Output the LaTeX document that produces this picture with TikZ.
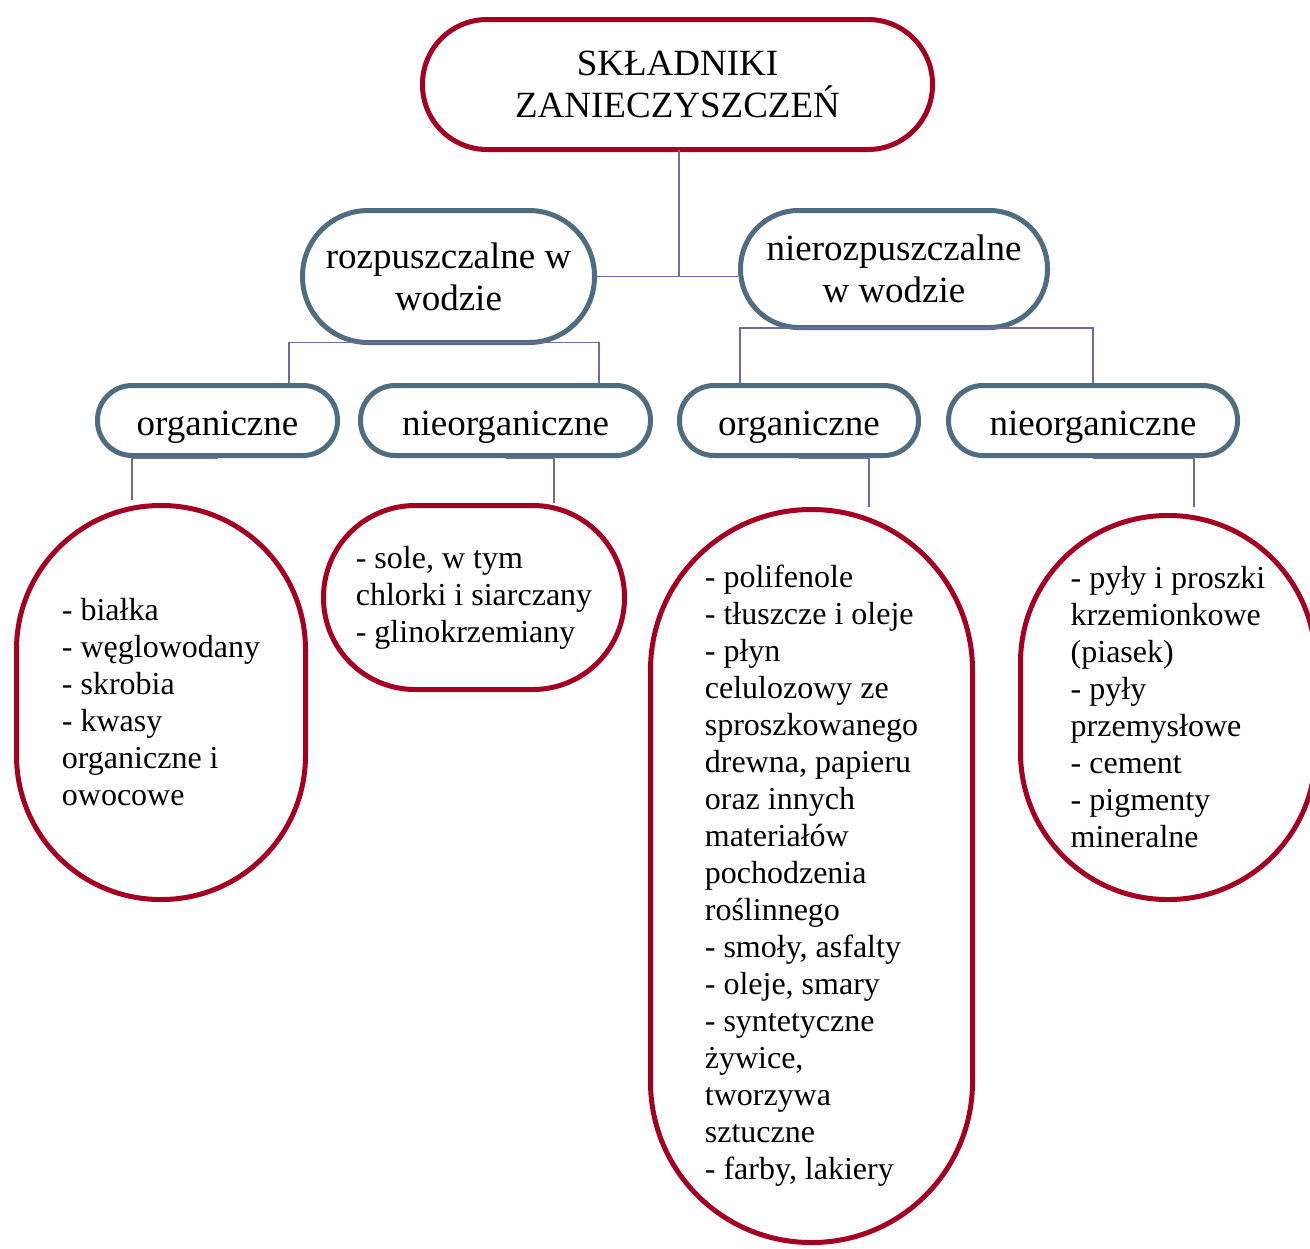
\documentclass[tikz,border=0pt]{standalone}
\usepackage{fontspec}
\setmainfont{Liberation Serif}
\definecolor{myred}{RGB}{165,0,33}
\definecolor{myblue}{RGB}{79,109,128}
\definecolor{myline}{RGB}{112,106,160}
\tikzset{
  redbox/.style={draw=myred, line width=2.5pt, fill=white, inner sep=0pt, align=left, font=\fontsize{16}{18.5}\selectfont},
  bluebox/.style={draw=myblue, line width=2.5pt, fill=white, inner sep=0pt, align=center, font=\fontsize{18.5}{21}\selectfont},
  smallblue/.style={bluebox, minimum height=35pt, rounded corners=17.3pt, text height=18.5pt, text depth=4pt},
  titlebox/.style={draw=myred, line width=2.5pt, fill=white, inner sep=0pt, align=center, font=\fontsize{18.5}{21}\selectfont},
  conn/.style={draw=myline, line width=0.75pt},
}
\begin{document}
\begin{tikzpicture}[x=0.5pt,y=-0.5pt]
\useasboundingbox (0,0) rectangle (1310,1248);
% top
\node[titlebox, minimum width=255pt, minimum height=65pt, rounded corners=32.3pt] (title) at (677.5,84.5) {SKŁADNIKI\\ZANIECZYSZCZEŃ};
% level 2
\node[bluebox, minimum width=146pt, minimum height=66pt, rounded corners=32.8pt] (lm) at (448.5,276.5) {rozpuszczalne w\\wodzie};
\node[bluebox, minimum width=153.5pt, minimum height=58.5pt, rounded corners=29pt] (rm) at (894,269) {nierozpuszczalne\\w wodzie};
% level 3
\node[smallblue, minimum width=120pt] (oL) at (217.5,420.5) {organiczne};
\node[smallblue, minimum width=145pt] (nL) at (505.5,420.5) {nieorganiczne};
\node[smallblue, minimum width=119.5pt] (oR) at (799,420.5) {organiczne};
\node[smallblue, minimum width=144.5pt] (nR) at (1093,420.5) {nieorganiczne};
% level 4
\node[redbox, minimum width=144.5pt, minimum height=197pt, rounded corners=72pt] (L1) at (161,702.5)
  {- białka\\- węglowodany\\- skrobia\\- kwasy\\organiczne i\\owocowe};
\node[redbox, minimum width=150.5pt, minimum height=92pt, rounded corners=45.8pt] (L2) at (474,597.5)
  {- sole, w tym\\chlorki i siarczany\\- glinokrzemiany};
\node[redbox, minimum width=161pt, minimum height=366.5pt, rounded corners=80.3pt] (L3) at (811.5,876)
  {- polifenole\\- tłuszcze i oleje\\- płyn\\celulozowy ze\\sproszkowanego\\drewna, papieru\\oraz innych\\materiałów\\pochodzenia\\roślinnego\\- smoły, asfalty\\- oleje, smary\\- syntetyczne\\żywice,\\tworzywa\\sztuczne\\- farby, lakiery};
\node[redbox, minimum width=147.5pt, minimum height=192pt, rounded corners=73.5pt] (L4) at (1168,707.5)
  {- pyły i proszki\\krzemionkowe\\(piasek)\\- pyły\\przemysłowe\\- cement\\- pigmenty\\mineralne};
% connectors
\coordinate (t1) at (679,149.5);
\draw[conn] (t1) -- (t1 |- lm.east);
\draw[conn] (lm.east) -- (rm.west |- lm.east);
\coordinate (a1) at (289,342.5);
\coordinate (a2) at (599,342.5);
\draw[conn] (a1 |- oL.north) -- (a1) -- (a2) -- (a2 |- nL.north);
\coordinate (b1) at (740,328);
\coordinate (b2) at (1093,328);
\draw[conn] (b1 |- oR.north) -- (b1) -- (b2) -- (b2 |- nR.north);
\coordinate (d1) at (132,500);
\coordinate (d2) at (554,503);
\coordinate (d3) at (869,507);
\coordinate (d4) at (1194,507);
\draw[conn] (oL.south) -| (d1);
\draw[conn] (nL.south) -| (d2);
\draw[conn] (oR.south) -| (d3);
\draw[conn] (nR.south) -| (d4);
\end{tikzpicture}
\end{document}
